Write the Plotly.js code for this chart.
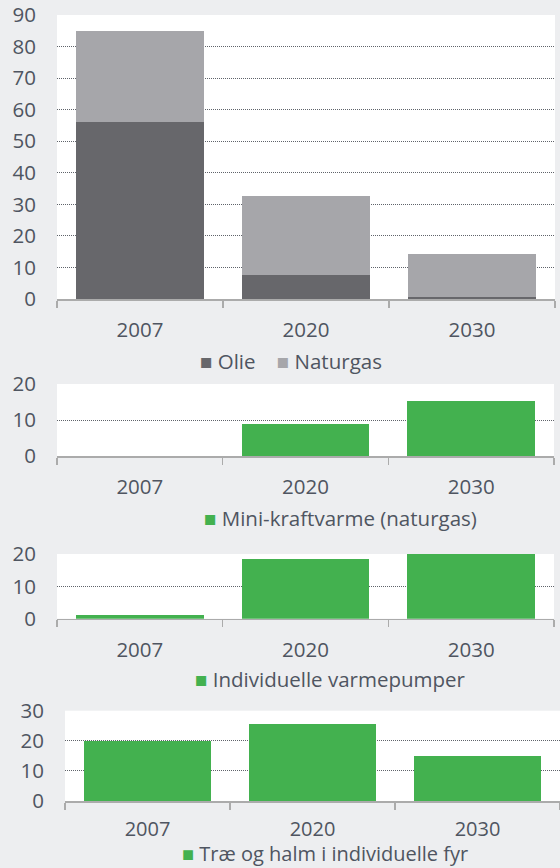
<!DOCTYPE html>
<html>
<head>
<meta charset="utf-8">
<script src="https://cdn.plot.ly/plotly-3.0.1.min.js"></script>
<style>html,body{margin:0;padding:0;background:#edeef0;}#chart{width:560px;height:868px;}</style>
</head>
<body>
<div id="chart"></div>
<script>
// ---- data ----
const years = ['2007', '2020', '2030'];
const olie = [56, 7.5, 0.7];
const naturgas = [29, 25.2, 13.7];
const miniKraftvarme = [0, 8.8, 15.4];
const varmepumper = [1, 18.4, 20];
const traeHalm = [20, 25.7, 15];
const seriesNames = ['Olie', 'Naturgas', 'Mini-kraftvarme (naturgas)', 'Individuelle varmepumper', 'Træ og halm i individuelle fyr'];

// ---- style ----
const FONT = 'Open Sans, sans-serif';
const FS = 20.5;
const TXT = '#4f5561';
const GREY_DARK = '#67676b';
const GREY_LIGHT = '#a6a6aa';
const GREEN = '#43b14f';
const BW = 0.77;

function bar(y, name, color, xa, ya) {
  return {type: 'bar', x: years, y: y, name: name, width: BW, xaxis: xa, yaxis: ya,
    marker: {color: color, line: {width: 0}}, showlegend: false, hoverinfo: 'x+y+name'};
}

const traces = [
  bar(olie, seriesNames[0], GREY_DARK, 'x', 'y'),
  bar(naturgas, seriesNames[1], GREY_LIGHT, 'x', 'y'),
  bar(miniKraftvarme, seriesNames[2], GREEN, 'x2', 'y2'),
  bar(varmepumper, seriesNames[3], GREEN, 'x3', 'y3'),
  bar(traeHalm, seriesNames[4], GREEN, 'x4', 'y4')
];

function xax(domain, anchor, standoff, fs) {
  return {domain: domain, anchor: anchor, type: 'category', showgrid: false, zeroline: false,
    showline: true, linecolor: '#ababab', linewidth: 1.5,
    ticks: 'outside', tickson: 'boundaries', ticklen: 7, tickwidth: 1.5, tickcolor: '#ababab',
    ticklabelstandoff: standoff,
    tickfont: {family: FONT, size: fs || FS, color: TXT}, fixedrange: true};
}
function yax(domain, anchor, range) {
  return {domain: domain, anchor: anchor, range: range, dtick: 10, tick0: 0,
    showgrid: true, gridcolor: '#5f636a', griddash: '1px,1px', gridwidth: 1,
    zeroline: false, showline: false, ticks: '', ticklabelstandoff: 20,
    tickfont: {family: FONT, size: FS, color: TXT}, fixedrange: true};
}

function legendText(names, colors) {
  return names.map((n, i) => '<span style="color:' + colors[i] + '">■</span>&nbsp;' + n)
    .join('&nbsp;&nbsp;&nbsp;&nbsp;');
}
function legendAnn(text, xpx, ypx, anchor, fs) {
  return {text: text, xref: 'paper', yref: 'paper', x: xpx / 560, y: 1 - ypx / 868,
    xanchor: 'center', yanchor: anchor || 'middle', showarrow: false, borderpad: 0,
    font: {family: FONT, size: fs || FS, color: TXT}};
}

const layout = {
  width: 560, height: 868,
  margin: {l: 0, r: 0, t: 0, b: 0},
  paper_bgcolor: '#edeef0', plot_bgcolor: '#ffffff',
  barmode: 'stack', showlegend: false,
  font: {family: FONT, color: TXT},
  xaxis: xax([57 / 560, 555 / 560], 'y', 12),
  yaxis: yax([1 - 299 / 868, 1 - 15 / 868], 'x', [0, 90]),
  xaxis2: xax([57 / 560, 554 / 560], 'y2', 12),
  yaxis2: yax([1 - 456 / 868, 1 - 384 / 868], 'x2', [0, 20]),
  xaxis3: xax([57 / 560, 554 / 560], 'y3', 12),
  yaxis3: yax([1 - 618.7 / 868, 1 - 554 / 868], 'x3', [0, 20]),
  xaxis4: xax([65 / 560, 1], 'y4', 9, 20),
  yaxis4: yax([1 - 801 / 868, 1 - 710.7 / 868], 'x4', [0, 30]),
  annotations: [
    legendAnn(legendText([seriesNames[0], seriesNames[1]], [GREY_DARK, GREY_LIGHT]), 291, 361),
    legendAnn(legendText([seriesNames[2]], [GREEN]), 340, 518),
    legendAnn(legendText([seriesNames[3]], [GREEN]), 330, 679),
    legendAnn(legendText([seriesNames[4]], [GREEN]), 325, 868, 'bottom', 20)
  ]
};

Plotly.newPlot('chart', traces, layout, {staticPlot: true, displayModeBar: false});
</script>
</body>
</html>
